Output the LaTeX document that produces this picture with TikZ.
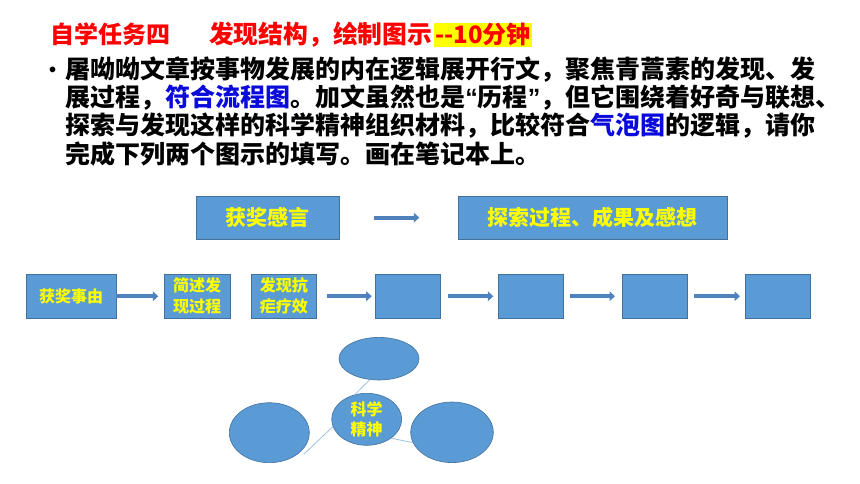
\documentclass[tikz,border=0pt]{standalone}
\usepackage{fontspec}
\newfontfamily\zh{Noto Sans CJK SC}
\newfontfamily\lat{Liberation Sans}
\usetikzlibrary{shapes.geometric,arrows.meta}
\definecolor{boxfill}{RGB}{91,155,213}
\definecolor{boxline}{RGB}{65,113,156}
\definecolor{arrowblue}{RGB}{79,129,189}
\definecolor{linkblue}{RGB}{157,195,230}
\definecolor{txtblue}{RGB}{10,10,220}
\definecolor{hl}{RGB}{255,255,0}
\definecolor{boxtxt}{RGB}{255,255,0}
\definecolor{titlered}{RGB}{255,0,0}
\begin{document}
\begin{tikzpicture}[x=1pt,y=-1pt,
  every node/.style={inner sep=0pt, outer sep=0pt},
  titletxt/.style={anchor=base west, text=titlered, font=\zh\bfseries\fontsize{24}{28}\selectfont},
  body/.style={anchor=base west, font=\zh\bfseries\fontsize{25}{30}\selectfont},
  box/.style={rectangle, fill=boxfill, draw=boxline, line width=0.8pt, anchor=north west, text=boxtxt},
  bigtxt/.style={font=\zh\bfseries\fontsize{21}{25}\selectfont},
  smalltxt/.style={font=\zh\bfseries\fontsize{16}{21}\selectfont, align=center},
  blk/.style={draw=arrowblue, line width=3.8pt, -{Triangle[width=9.5pt,length=5.5pt]}},
  bubble/.style={ellipse, fill=boxfill, draw=boxline, line width=0.6pt},
  link/.style={draw=linkblue, line width=0.8pt}
]
\useasboundingbox[fill=white] (0,0) rectangle (860,484);

% title
\node[titletxt] (t1) at (50.5,43.3) {自学任务四};
\node[titletxt, font=\zh\bfseries\fontsize{24.8}{28}\selectfont] (t2) at (209,43.3) {发现结构，绘制图示};
\node[titletxt, fill=hl, inner xsep=1pt, text height=20pt, text depth=3.6pt] (t3) at (434,43.3) {--10分钟};

% body text
\node[anchor=center, font=\lat\bfseries\fontsize{20}{24}\selectfont] (bul) at (52.7,71.5) {•};
\node[body] (l1) at (65.5,78.3) {屠呦呦文章按事物发展的内在逻辑展开行文，聚焦青蒿素的发现、发};
\node[body] (l2) at (65.5,106.6) {展过程，{\color{txtblue}符合流程图}。加文虽然也是{\lat “}历程{\lat ”}，但它围绕着好奇与联想、};
\node[body] (l3) at (65.5,135) {探索与发现这样的科学精神组织材料，比较符合{\color{txtblue}气泡图}的逻辑，请你};
\node[body] (l4) at (65.5,163.4) {完成下列两个图示的填写。画在笔记本上。};

% top boxes
\node[box, bigtxt, minimum width=143.3pt, minimum height=43.3pt] (b1) at (196,196) {获奖感言};
\node[box, bigtxt, minimum width=268.7pt, minimum height=43.3pt] (b2) at (458.3,196) {探索过程、成果及感想};
\draw[blk, shorten <=35pt, shorten >=39pt] (b1) -- (b2);

% flow row
\node[box, smalltxt, minimum width=90pt, minimum height=43.5pt] (r1) at (26,274.5) {获奖事由};
\node[box, smalltxt, minimum width=65.7pt, minimum height=43.5pt] (r2) at (164.3,274.5) {简述发\\现过程};
\node[box, smalltxt, minimum width=65.7pt, minimum height=43.5pt] (r3) at (251,274.5) {发现抗\\疟疗效};
\node[box, minimum width=65pt, minimum height=43.5pt] (r4) at (375,274.5) {};
\node[box, minimum width=65pt, minimum height=43.5pt] (r5) at (498.3,274.5) {};
\node[box, minimum width=65pt, minimum height=43.5pt] (r6) at (622,274.5) {};
\node[box, minimum width=65pt, minimum height=43.5pt] (r7) at (745,274.5) {};
\draw[blk, shorten >=6pt] (r1) -- (r2);
\draw[blk, shorten <=10.6pt, shorten >=3.3pt] (r3) -- (r4);
\draw[blk, shorten <=8.3pt, shorten >=5pt] (r4) -- (r5);
\draw[blk, shorten <=6.7pt, shorten >=7pt] (r5) -- (r6);
\draw[blk, shorten <=7pt, shorten >=5pt] (r6) -- (r7);

% bubble map
\node[bubble, minimum width=80pt, minimum height=42.6pt] (T) at (379,358.7) {};
\node[bubble, minimum width=80pt, minimum height=60pt] (L) at (269.3,432.7) {};
\node[bubble, minimum width=82.6pt, minimum height=60.6pt] (R) at (452,432.3) {};
\node[bubble, minimum width=70pt, minimum height=52pt, text=boxtxt, align=center,
      font=\zh\bfseries\fontsize{16}{19.3}\selectfont] (C) at (366.7,419.3) {科学\\精神};
\coordinate (lend) at (304,454);
\draw[link] (C.117.6) -- (T.247.1);
\draw[link] (C.192.2) -- (lend);
\draw[link] (C.322.8) -- (R.195.9);
\end{tikzpicture}
\end{document}
